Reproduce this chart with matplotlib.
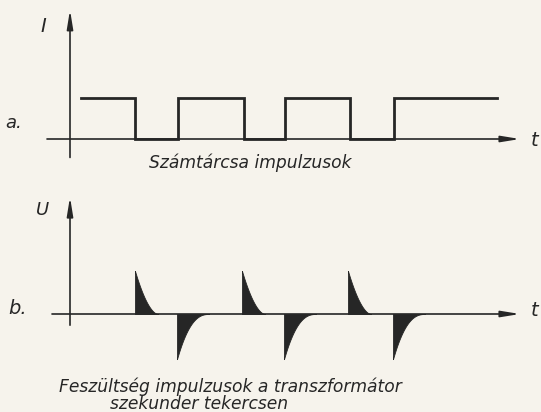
import numpy as np
import matplotlib.pyplot as plt

# a. counter-disc current pulses (time measured from the origin)
fall_t = [65, 174, 280]
rise_t = [108, 215, 324]
wave_start, wave_end = 11, 427
high_level = 1.0

# b. secondary voltage spikes
pos_t = [65, 172, 278]
pos_amp = [1.0, 1.0, 1.0]
pos_width = 23
neg_t = [107, 214, 323]
neg_amp = [-1.05, -1.05, -1.05]
neg_width = 32

caption_a = "Számtárcsa impulzusok"
caption_b1 = "Feszültség impulzusok a transzformátor"
caption_b2 = "szekunder tekercsen"

ink = "#262626"
paper = "#f6f3ec"
W, H = 541, 412
X0 = 70  # pixel column of the vertical axes

fig = plt.figure(figsize=(W / 100, H / 100), dpi=100, facecolor=paper)
ax1 = fig.add_axes([0, 0.5, 1, 0.5])
ax2 = fig.add_axes([0, 0, 1, 0.5])
for ax in (ax1, ax2):
    ax.set_axis_off()
    ax.set_xlim(-X0, W - X0)
ax1.set_ylim(-(206 - 139) / 41, 139 / 41)
ax2.set_ylim(-(412 - 314) / 43, (314 - 206) / 43)

arrow = dict(arrowstyle="-|>,head_length=0.8,head_width=0.13", lw=1.2,
             color=ink, mutation_scale=14, shrinkA=0, shrinkB=0)

# top panel axes
ax1.annotate("", xy=(450, 0), xytext=(-23, 0), arrowprops=arrow,
             annotation_clip=False)
ax1.annotate("", xy=(0, 3.15), xytext=(0, -0.45), arrowprops=arrow,
             annotation_clip=False)

# square wave
xs, ys = [wave_start], [high_level]
for f, r in zip(fall_t, rise_t):
    xs += [f, f, r, r]
    ys += [high_level, 0, 0, high_level]
xs.append(wave_end)
ys.append(high_level)
ax1.plot(xs, ys, color=ink, lw=2.0, solid_joinstyle="miter")

# bottom panel axes
ax2.annotate("", xy=(450, 0), xytext=(-18, 0), arrowprops=arrow,
             annotation_clip=False)
ax2.annotate("", xy=(0, 2.72), xytext=(0, -0.26), arrowprops=arrow,
             annotation_clip=False)

s = np.linspace(0, 1, 80)
for t0, a in zip(pos_t, pos_amp):
    x = t0 + s * pos_width
    y = a * (1 - s) ** 1.8
    ax2.fill_between(np.r_[t0, x], np.r_[0, y], 0, color=ink, lw=0.6, ec=ink)
for t0, a in zip(neg_t, neg_amp):
    x = t0 + s * neg_width
    y = a * (1 - s) ** 2.5
    ax2.fill_between(np.r_[t0, x], np.r_[0, y], 0, color=ink, lw=0.6, ec=ink)


def label(x, y, txt, size=12, ha="center"):
    fig.text(x / W, 1 - y / H, txt, fontsize=size, style="italic", color=ink,
             ha=ha, va="center", family="DejaVu Sans")


label(43, 27, "I", 14)
label(14, 123, "a.", 13)
label(535, 141, "t", 14)
label(250, 163, caption_a, 12.3)
label(43, 210, "U", 13)
label(18, 308, "b.", 14)
label(535, 310, "t", 14)
label(230, 387, caption_b1, 12.3)
label(199, 404, caption_b2, 12.3)

fig.savefig("out.png", dpi=100, facecolor=paper)
